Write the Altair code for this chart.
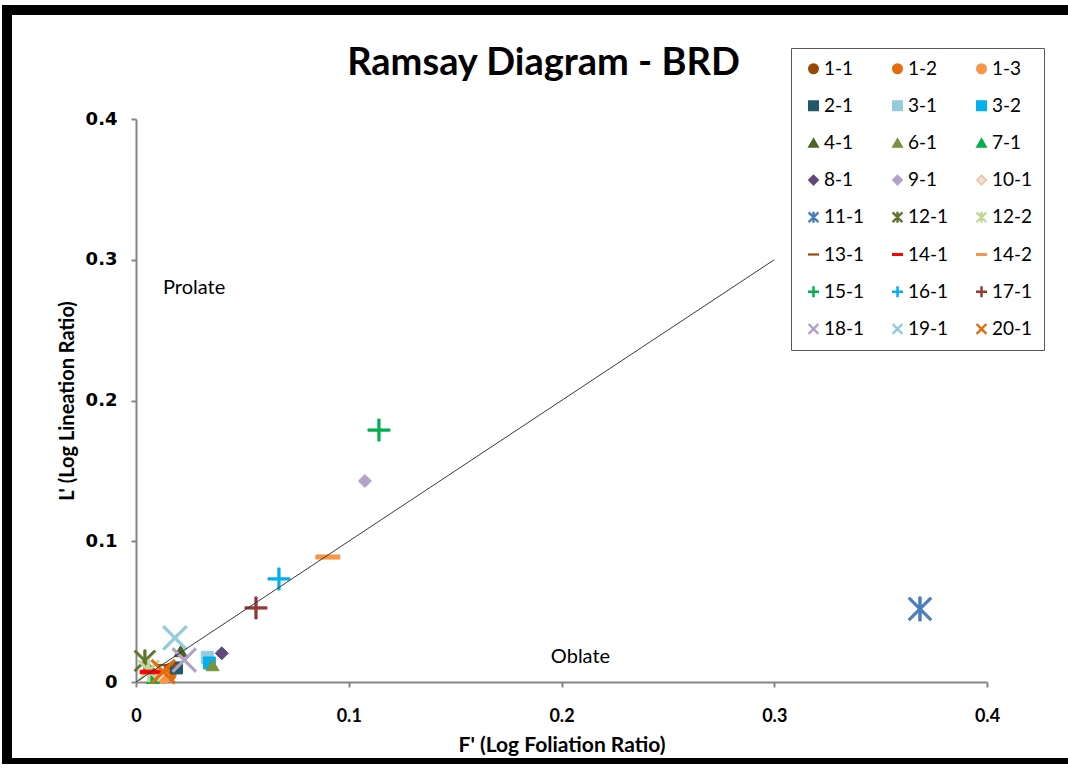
import altair as alt
import numpy as np
import pandas as pd

# ---- data -------------------------------------------------------------
SERIES = ["1-1", "1-2", "1-3", "2-1", "3-1", "3-2", "4-1", "6-1", "7-1",
          "8-1", "9-1", "10-1", "11-1", "12-1", "12-2", "13-1", "14-1",
          "14-2", "15-1", "16-1", "17-1", "18-1", "19-1", "20-1"]
F_PRIME = [0.016, 0.016, 0.013, 0.019, 0.0335, 0.0345, 0.021, 0.036, 0.008,
           0.0403, 0.1076, 0.011, 0.3685, 0.0042, 0.006, 0.015, 0.0071,
           0.0902, 0.1142, 0.0672, 0.0564, 0.0227, 0.0183, 0.0128]
L_PRIME = [0.009, 0.005, 0.003, 0.010, 0.0175, 0.0135, 0.022, 0.012, 0.003,
           0.0204, 0.1428, 0.006, 0.0519, 0.0150, 0.008, 0.012, 0.0071,
           0.0888, 0.1790, 0.0732, 0.0526, 0.0156, 0.0313, 0.0073]

# k = 1 reference line (plane strain)
REF_F = [0.0, 0.3]
REF_L = [0.0, 0.3]

AXIS_TICKS = [0.0, 0.1, 0.2, 0.3, 0.4]

FIELD_LABELS = ["Prolate", "Oblate"]
FIELD_F = [0.0127, 0.195]
FIELD_L = [0.28, 0.0178]


# ---- marker glyphs (unit square, filled outlines) ---------------------
def bar(angle, length=1.0, half=0.1):
    a = np.deg2rad(angle)
    c, s = np.cos(a), np.sin(a)
    pts = [(-length, -half), (length, -half), (length, half), (-length, half)]
    rot = [(x * c - y * s, x * s + y * c) for x, y in pts]
    return "M" + "L".join(f"{x:.3f},{y:.3f}" for x, y in rot) + "Z"


PLUS = bar(0) + bar(90)
XMARK = bar(45, 1.3) + bar(-45, 1.3)
STAR = bar(90) + bar(45, 1.3) + bar(-45, 1.3)
DASH = "M-1,-0.17L1,-0.17L1,0.17L-1,0.17Z"
DASH_THIN = "M-1,-0.07L1,-0.07L1,0.07L-1,0.07Z"

# series -> (shape, fill, stroke, marker area)
STYLE = {
    "1-1": ("circle", "#974706", None, 144),
    "1-2": ("circle", "#E46C0A", None, 144),
    "1-3": ("circle", "#F79646", None, 144),
    "2-1": ("square", "#215968", None, 144),
    "3-1": ("square", "#93CDDD", None, 144),
    "3-2": ("square", "#00B0F0", None, 144),
    "4-1": ("triangle-up", "#4F6228", None, 169),
    "6-1": ("triangle-up", "#77933C", None, 169),
    "7-1": ("triangle-up", "#00B050", None, 169),
    "8-1": ("diamond", "#604A7B", None, 169),
    "9-1": ("diamond", "#B3A2C7", None, 169),
    "10-1": ("diamond", "#E6E0EC", "#FAC090", 169),
    "11-1": (STAR, "#4A7EBB", None, 576),
    "12-1": (STAR, "#5F7530", None, 484),
    "12-2": (STAR, "#C3D69B", None, 484),
    "13-1": (DASH_THIN, "#984807", None, 400),
    "14-1": (DASH, "#FF0000", None, 484),
    "14-2": (DASH, "#F79646", None, 576),
    "15-1": (PLUS, "#00B050", None, 484),
    "16-1": (PLUS, "#00B0F0", None, 484),
    "17-1": (PLUS, "#953735", None, 484),
    "18-1": (XMARK, "#B3A2C7", None, 625),
    "19-1": (XMARK, "#93CDDD", None, 625),
    "20-1": (XMARK, "#E46C0A", None, 625),
}
SHAPES = [STYLE[s][0] for s in SERIES]
FILLS = [STYLE[s][1] for s in SERIES]
STROKES = [STYLE[s][2] or STYLE[s][1] for s in SERIES]

points = pd.DataFrame({"series": SERIES, "F": F_PRIME, "L": L_PRIME})
points["msize"] = points["series"].map(lambda s: STYLE[s][3])
ref = pd.DataFrame({"F": REF_F, "L": REF_L})
fields = pd.DataFrame({"label": FIELD_LABELS, "F": FIELD_F, "L": FIELD_L})

W, H = 851, 563
PAD = {"left": 136, "top": 119, "right": 81, "bottom": 82}
RIGHT = PAD["left"] + W + PAD["right"]
BOTTOM = PAD["top"] + H + PAD["bottom"]


def legend():
    return alt.Legend(
        title=None, orient="none", legendX=655, legendY=-71, columns=3,
        direction="horizontal", gridAlign="all", padding=11,
        strokeColor="#595959", fillColor="white",
        labelFont="Lato", labelFontSize=19, labelColor="black", labelOffset=1,
        rowPadding=17.2, columnPadding=21, symbolSize=90, symbolOffset=2,
    )


x_scale = alt.Scale(domain=[0, 0.4], nice=False)
y_scale = alt.Scale(domain=[0, 0.4], nice=False)

axis_common = dict(
    values=AXIS_TICKS, format=".1~f", grid=False,
    domainColor="#868686", domainWidth=2, tickColor="#868686", tickWidth=2,
    tickSize=5, labelColor="black", titleColor="black",
    titleFont="Lato", titleFontWeight="bold",
)

x_enc = alt.X("F:Q", scale=x_scale, axis=alt.Axis(
    title="F' (Log Foliation Ratio)", labelFont="Lato", labelFontSize=18,
    labelFontWeight="bold", labelPadding=20, titlePadding=9, titleFontSize=21,
    **axis_common))
y_enc = alt.Y("L:Q", scale=y_scale, axis=alt.Axis(
    title="L' (Log Lineation Ratio)", labelFont="DejaVu Sans", labelFontSize=18,
    labelFontWeight="bold", labelPadding=14, titlePadding=8, titleFontSize=20,
    **axis_common))

marks = alt.Chart(points).mark_point(filled=True, opacity=1, strokeWidth=1).encode(
    x=x_enc,
    y=y_enc,
    color=alt.Color("series:N", scale=alt.Scale(domain=SERIES, range=FILLS), legend=legend()),
    stroke=alt.Stroke("series:N", scale=alt.Scale(domain=SERIES, range=STROKES), legend=legend()),
    shape=alt.Shape("series:N", scale=alt.Scale(domain=SERIES, range=SHAPES), legend=legend()),
    size=alt.Size("msize:Q", scale=None, legend=None),
    order=alt.Order("idx:Q"),
).transform_window(idx="row_number()")

ref_line = alt.Chart(ref).mark_line(color="#3a3a3a", strokeWidth=1).encode(
    x=alt.X("F:Q", scale=x_scale), y=alt.Y("L:Q", scale=y_scale))

field_text = alt.Chart(fields).mark_text(
    font="Lato", fontSize=20, color="black", align="left", baseline="middle"
).encode(x=alt.X("F:Q", scale=x_scale), y=alt.Y("L:Q", scale=y_scale), text="label:N")


# heavy black frame around the figure: solid bands on the left, top and bottom
def band(x0, x1, y0, y1):
    return alt.Chart(alt.Data(values=[{}])).mark_rect(color="black").encode(
        x=alt.value(x0 - PAD["left"]), x2=alt.value(x1 - PAD["left"]),
        y=alt.value(y0 - PAD["top"]), y2=alt.value(y1 - PAD["top"]),
    )


frame_left = band(2, 12, 5, BOTTOM)
frame_top = band(2, RIGHT, 5, 15)
frame_bottom = band(2, RIGHT, BOTTOM - 6, BOTTOM)

chart = alt.layer(marks, ref_line, field_text, frame_left, frame_top, frame_bottom).properties(
    width=W, height=H,
    autosize=alt.AutoSizeParams(type="none"),
    padding=PAD,
    title=alt.TitleParams(
        "Ramsay Diagram - BRD", font="Lato", fontSize=38, fontWeight="bold",
        color="black", anchor="middle", frame="group", dx=-18, dy=82,
    ),
).configure_view(stroke=None).configure_axis(labelFlush=False)

chart.save("out.html", embed_options={"renderer": "svg", "actions": False})
